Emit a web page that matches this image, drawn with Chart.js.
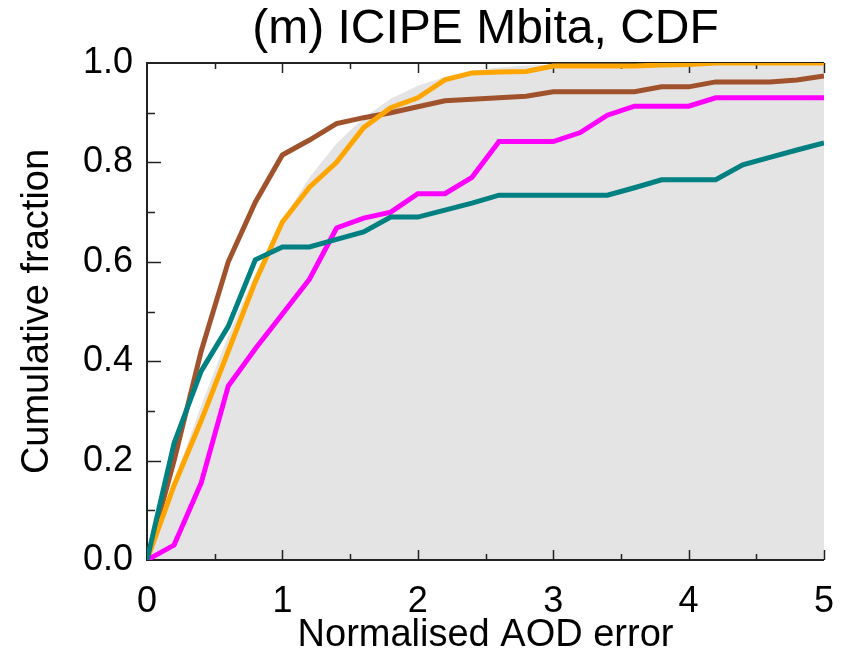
<!DOCTYPE html>
<html>
<head>
<meta charset="utf-8">
<script src="https://cdn.jsdelivr.net/npm/chart.js@4.4.0/dist/chart.umd.min.js"></script>
<style>
html, body { margin: 0; padding: 0; background: #fff; }
</style>
</head>
<body>
<canvas id="myChart" width="841" height="655"></canvas>
<script>
// normalised AOD error steps (x)
var errorSteps = [0, 0.2, 0.4, 0.6, 0.8, 1.0, 1.2, 1.4, 1.6, 1.8, 2.0, 2.2, 2.4,
                  2.6, 2.8, 3.0, 3.2, 3.4, 3.6, 3.8, 4.0, 4.2, 4.4, 4.6, 4.8, 5.0];

// cumulative fraction per product
var brownCdf   = [0, 0.2, 0.42, 0.6, 0.72, 0.815, 0.845, 0.878, 0.89, 0.90, 0.912, 0.924, 0.927,
                  0.93, 0.933, 0.942, 0.942, 0.942, 0.942, 0.952, 0.952, 0.962, 0.962, 0.962, 0.966, 0.974];
var orangeCdf  = [0, 0.15, 0.28, 0.42, 0.56, 0.68, 0.75, 0.80, 0.87, 0.91, 0.93, 0.966, 0.98,
                  0.982, 0.983, 0.994, 0.994, 0.994, 0.994, 0.996, 0.997, 1.0, 1.0, 1.0, 1.0, 1.0];
var magentaCdf = [0, 0.03, 0.155, 0.35, 0.425, 0.495, 0.565, 0.668, 0.688, 0.70, 0.737, 0.737, 0.77,
                  0.842, 0.842, 0.842, 0.86, 0.895, 0.913, 0.913, 0.913, 0.93, 0.93, 0.93, 0.93, 0.93];
var tealCdf    = [0, 0.235, 0.38, 0.47, 0.604, 0.63, 0.63, 0.645, 0.66, 0.69, 0.69, 0.704, 0.718,
                  0.734, 0.734, 0.734, 0.734, 0.734, 0.749, 0.765, 0.765, 0.765, 0.795, 0.81, 0.825, 0.839];
// grey shaded reference curve
var referenceCdf = [0, 0.159, 0.311, 0.451, 0.576, 0.683, 0.770, 0.838, 0.890, 0.928, 0.954, 0.972, 0.984,
                    0.991, 0.995, 0.997, 0.999, 0.999, 1.0, 1.0, 1.0, 1.0, 1.0, 1.0, 1.0, 1.0];

// tick marks
var xTickMarks = [0.5, 1, 1.5, 2, 2.5, 3, 3.5, 4, 4.5, 5];
var yTickMarks = [0.1, 0.2, 0.3, 0.4, 0.5, 0.6, 0.7, 0.8, 0.9];

function pairs(ys) {
    return errorSteps.map(function (x, i) { return { x: x, y: ys[i] }; });
}

var FONT = "'Liberation Sans', Arial, Helvetica, sans-serif";

// frame + inward ticks, drawn just after the grey fill so the lines sit on top
var frameTicks = {
    id: 'frameTicks',
    afterDatasetDraw: function (chart, args) {
        if (args.index !== 4) return;
        var ctx = chart.ctx, a = chart.chartArea;
        var xs = chart.scales.x, ys = chart.scales.y;
        ctx.save();
        ctx.strokeStyle = '#222';
        ctx.lineWidth = 2;
        ctx.beginPath();
        ctx.moveTo(a.right, a.top);
        ctx.lineTo(a.left, a.top);
        ctx.lineTo(a.left, a.bottom);
        ctx.lineTo(a.right, a.bottom);
        ctx.stroke();
        ctx.lineWidth = 1.5;
        ctx.beginPath();
        xTickMarks.forEach(function (v) {
            var px = Math.round(xs.getPixelForValue(v)) + 0.5;
            var len = (v % 1 === 0) ? 10 : 6;
            ctx.moveTo(px, a.bottom); ctx.lineTo(px, a.bottom - len);
            ctx.moveTo(px, a.top); ctx.lineTo(px, a.top + len);
        });
        yTickMarks.forEach(function (v) {
            var py = Math.round(ys.getPixelForValue(v)) + 0.5;
            var len = (Math.round(v * 10) % 2 === 0) ? 14 : 8;
            ctx.moveTo(a.left, py); ctx.lineTo(a.left + len, py);
        });
        ctx.stroke();
        ctx.restore();
    }
};

// title centred over the plot area
var plotTitle = {
    id: 'plotTitle',
    afterDraw: function (chart) {
        var ctx = chart.ctx, a = chart.chartArea;
        ctx.save();
        ctx.fillStyle = '#000';
        ctx.font = '48px ' + FONT;
        ctx.textAlign = 'center';
        ctx.textBaseline = 'alphabetic';
        ctx.fillText('(m) ICIPE Mbita, CDF', (a.left + a.right) / 2, 43);
        ctx.restore();
    }
};

var ctx = document.getElementById('myChart').getContext('2d');
var chart = new Chart(ctx, {
    type: 'line',
    data: {
        datasets: [{
            label: 'teal',
            data: pairs(tealCdf),
            borderColor: '#008080',
            borderWidth: 5
        }, {
            label: 'magenta',
            data: pairs(magentaCdf),
            borderColor: '#ff00ff',
            borderWidth: 5
        }, {
            label: 'orange',
            data: pairs(orangeCdf),
            borderColor: '#ffa500',
            borderWidth: 5
        }, {
            label: 'brown',
            data: pairs(brownCdf),
            borderColor: '#a0522d',
            borderWidth: 5
        }, {
            label: 'reference',
            data: pairs(referenceCdf),
            borderColor: 'rgba(0,0,0,0)',
            borderWidth: 0,
            backgroundColor: '#e4e4e4',
            fill: 'origin'
        }]
    },
    options: {
        responsive: false,
        animation: false,
        devicePixelRatio: 1,
        elements: {
            point: { radius: 0 },
            line: { tension: 0, borderCapStyle: 'butt', borderJoinStyle: 'miter' }
        },
        layout: { padding: { top: 63, right: 17, left: 0, bottom: 0 } },
        plugins: {
            legend: { display: false },
            tooltip: { enabled: false }
        },
        scales: {
            x: {
                type: 'linear',
                min: 0,
                max: 5,
                grid: { display: false, drawTicks: false },
                border: { display: false },
                ticks: {
                    stepSize: 1,
                    color: '#000',
                    padding: 20,
                    font: { family: FONT, size: 36 }
                },
                title: {
                    display: true,
                    text: 'Normalised AOD error',
                    color: '#000',
                    font: { family: FONT, size: 38, lineHeight: 1 },
                    padding: { top: 0, bottom: 0 }
                },
                afterFit: function (s) {
                    s.height = 95;
                    s.paddingLeft = 0;
                    s.paddingRight = 0;
                }
            },
            y: {
                min: 0,
                max: 1,
                grid: { display: false, drawTicks: false },
                border: { display: false },
                ticks: {
                    stepSize: 0.2,
                    color: '#000',
                    padding: 14,
                    font: { family: FONT, size: 36 },
                    callback: function (v) { return v.toFixed(1); }
                },
                title: {
                    display: true,
                    text: 'Cumulative fraction',
                    color: '#000',
                    font: { family: FONT, size: 38, lineHeight: 1.2 },
                    padding: { top: 15, bottom: 0 }
                },
                afterFit: function (s) { s.width = 147; }
            }
        }
    },
    plugins: [frameTicks, plotTitle]
});
</script>
</body>
</html>
